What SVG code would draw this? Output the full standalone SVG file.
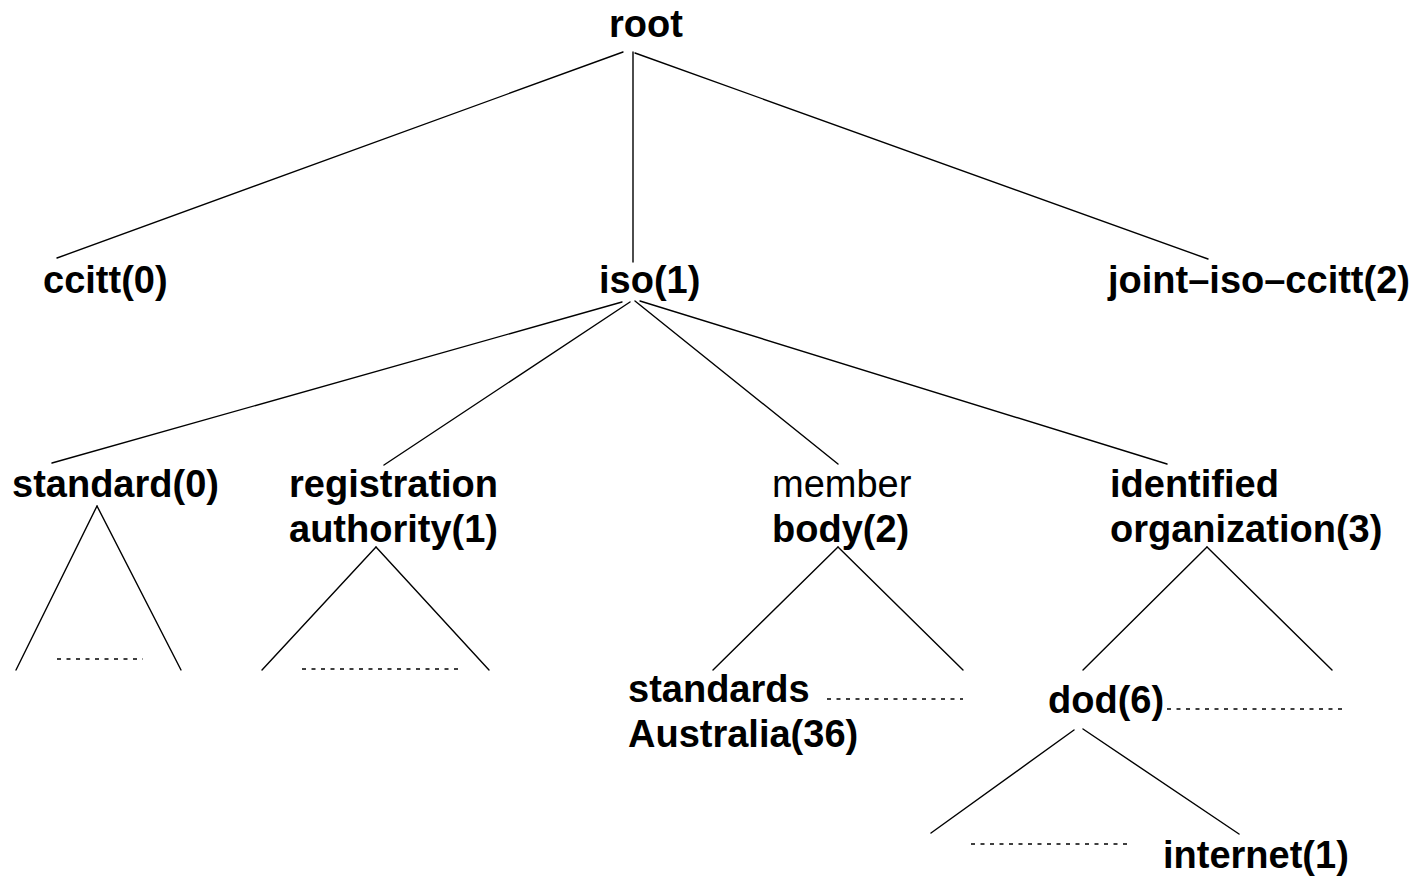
<svg xmlns="http://www.w3.org/2000/svg" width="1418" height="876" viewBox="0 0 1418 876">
<style>
.l{stroke:#000;stroke-width:1.4;fill:none;stroke-linecap:round}
.d{stroke:#000;stroke-width:1.4;fill:none;stroke-dasharray:4 5.5}
text{font-family:"Liberation Sans",Arial,sans-serif;font-size:38px;fill:#000}
.b{font-weight:bold}
</style>
<rect width="1418" height="876" fill="#fff"/>
<g id="connectors">
<line class="l" x1="623" y1="52" x2="57" y2="258"/>
<line class="l" x1="633" y1="52" x2="633" y2="262"/>
<line class="l" x1="635" y1="53" x2="1208" y2="259"/>
<line class="l" x1="622" y1="302" x2="52" y2="463"/>
<line class="l" x1="630" y1="302" x2="384" y2="465"/>
<line class="l" x1="635" y1="301" x2="838" y2="464"/>
<line class="l" x1="640" y1="301" x2="1167" y2="464"/>
<line class="l" x1="97" y1="506" x2="16" y2="670"/>
<line class="l" x1="97" y1="506" x2="181" y2="670"/>
<line class="d" x1="57" y1="659" x2="143" y2="659"/>
<line class="l" x1="376" y1="547" x2="262" y2="670"/>
<line class="l" x1="376" y1="547" x2="489" y2="670"/>
<line class="d" x1="302" y1="669" x2="460" y2="669"/>
<line class="l" x1="838" y1="547" x2="713" y2="670"/>
<line class="l" x1="838" y1="547" x2="963" y2="670"/>
<line class="d" x1="827" y1="699" x2="963" y2="699"/>
<line class="l" x1="1207" y1="547" x2="1083" y2="670"/>
<line class="l" x1="1207" y1="547" x2="1332" y2="670"/>
<line class="d" x1="1167" y1="709" x2="1343" y2="709"/>
<line class="l" x1="1074" y1="730" x2="931" y2="833"/>
<line class="l" x1="1083" y1="729" x2="1239" y2="834"/>
<line class="d" x1="971" y1="844" x2="1127" y2="844"/>
</g>
<g id="root"><text class="b" x="609" y="37">root</text></g>
<g id="ccitt"><text class="b" x="43" y="293">ccitt(0)</text></g>
<g id="iso"><text class="b" x="599" y="293">iso(1)</text></g>
<g id="joint"><text class="b" x="1108" y="293">joint–iso–ccitt(2)</text></g>
<g id="standard"><text class="b" x="12" y="497">standard(0)</text></g>
<g id="registration"><text class="b" x="289" y="497">registration</text><text class="b" x="289" y="542">authority(1)</text></g>
<g id="member"><text x="772" y="497">member</text><text class="b" x="772" y="542">body(2)</text></g>
<g id="identified"><text class="b" x="1110" y="497">identified</text><text class="b" x="1110" y="542">organization(3)</text></g>
<g id="australia"><text class="b" x="628" y="702">standards</text><text class="b" x="628" y="747">Australia(36)</text></g>
<g id="dod"><text class="b" x="1048" y="713">dod(6)</text></g>
<g id="internet"><text class="b" x="1163" y="868">internet(1)</text></g>
</svg>
